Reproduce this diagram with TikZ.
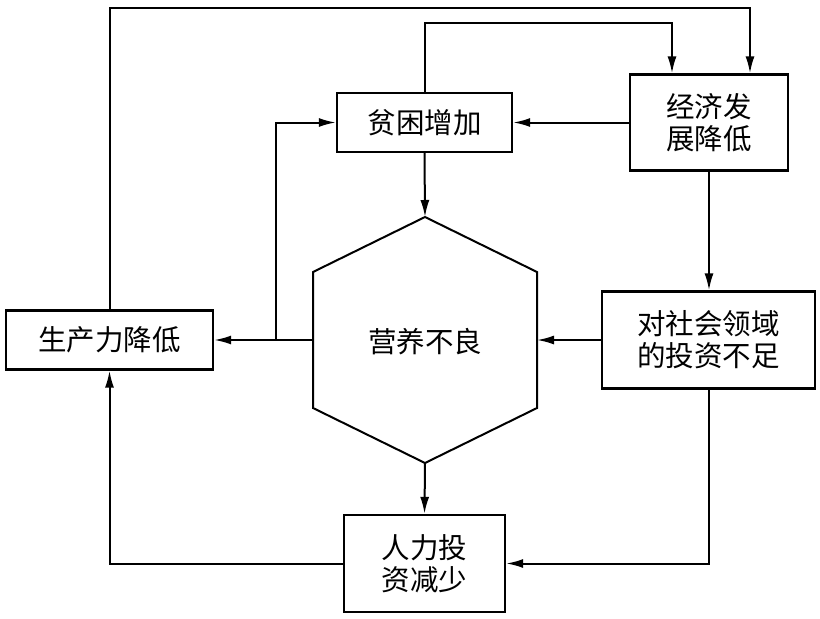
\documentclass[tikz,border=0pt]{standalone}
\usepackage{fontspec}
\newfontfamily\cjk{Noto Sans CJK SC}
\usetikzlibrary{arrows.meta}
\begin{document}
\begin{tikzpicture}[x=1pt,y=-1pt,
  box/.style={draw,line width=2.3pt,rectangle,inner sep=0pt,align=center,
    font=\cjk\fontsize{28.5}{32}\selectfont},
  conn/.style={line width=2pt,-{Latex[length=17pt,width=9pt]}},
  plain/.style={line width=2pt}]
\useasboundingbox (0,0) rectangle (820,619);
\node[box,minimum width=175pt,minimum height=59pt] (pk) at (424.5,122.5) {贫困增加};
\node[box,minimum width=158pt,minimum height=96pt] (jj) at (709,122.5) {经济发\\展降低};
\node[box,minimum width=207pt,minimum height=59pt] (sc) at (109.5,340) {生产力降低};
\node[box,minimum width=213pt,minimum height=97pt] (dz) at (708.5,340) {对社会领域\\的投资不足};
\node[box,minimum width=161pt,minimum height=97pt] (rl) at (424.5,563.5) {人力投\\资减少};
% hexagon
\coordinate (ht) at (425,217);
\coordinate (hb) at (425,463);
\coordinate (hl) at (313,340);
\coordinate (hr) at (537,340);
\draw[line width=2pt,line join=miter] (ht) -- (537,272) -- (537,408) -- (hb) -- (313,408) -- (313,272) -- cycle;
\node[font=\cjk\fontsize{28.5}{32}\selectfont] (yy) at (425,342) {营养不良};
% connectors
\coordinate (t1) at (750,8);
\coordinate (t2) at (672,23);
\coordinate (br) at (276,340);
\draw[conn] (sc.north) |- (t1) -- (t1 |- jj.north);
\draw[conn] (pk.north) |- (t2) -- (t2 |- jj.north);
\draw[conn] (jj.west) -- (pk.east);
\draw[conn] (pk.south) -- (ht);
\draw[conn] (jj.south) -- (jj.south |- dz.north);
\draw[conn] (dz.west) -- (hr);
\draw[conn] (hl) -- (sc.east);
\draw[conn] (br) |- (pk.west);
\draw[conn] (hb) -- (rl.north);
\draw[conn] (dz.south) |- (rl.east);
\draw[conn] (rl.west) -| (sc.south);
\end{tikzpicture}
\end{document}
